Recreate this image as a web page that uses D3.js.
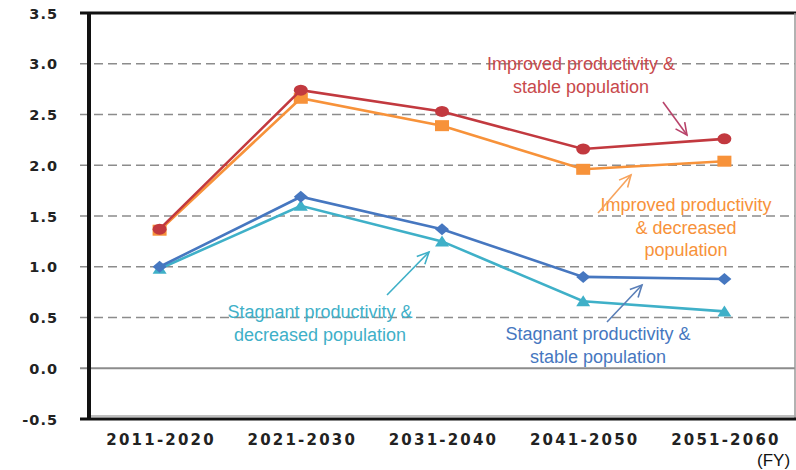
<!DOCTYPE html>
<html><head><meta charset="utf-8">
<script src="https://cdn.jsdelivr.net/npm/d3@7/dist/d3.min.js"></script>
<style>body{margin:0;background:#fff}svg{display:block}</style>
</head><body><svg id="c" width="796" height="470"></svg>
<script>
const categories = ["2011-2020","2021-2030","2031-2040","2041-2050","2051-2060"];
const yTicks = [-0.5,0,0.5,1,1.5,2,2.5,3,3.5];
const yTickLabels = ["-0.5","0.0","0.5","1.0","1.5","2.0","2.5","3.0","3.5"];
const improvedStable = [1.37,2.74,2.53,2.16,2.26];
const improvedDecreased = [1.36,2.66,2.39,1.96,2.04];
const stagnantStable = [1.00,1.69,1.37,0.90,0.88];
const stagnantDecreased = [0.98,1.60,1.25,0.66,0.56];
const seriesNames = ["Improved productivity & stable population","Improved productivity & decreased population","Stagnant productivity & stable population","Stagnant productivity & decreased population"];

const svg = d3.select("#c");
const L=89, R=795, T=13, B=419;
const x = d3.scalePoint().domain(categories).range([L,R]).padding(0.5);
const y = d3.scaleLinear().domain([-0.5,3.5]).range([B,T]);

// gridlines
svg.append("g").selectAll("line").data(yTicks.filter(v=>v!==0 && v!==3.5 && v!==-0.5)).join("line")
  .attr("x1",80).attr("x2",R).attr("y1",d=>y(d)).attr("y2",d=>y(d))
  .attr("stroke","#8c8c8c").attr("stroke-width",1.5).attr("stroke-dasharray","9,5");
// zero line
svg.append("line").attr("x1",80).attr("x2",R).attr("y1",y(0)).attr("y2",y(0))
  .attr("stroke","#8c8c8c").attr("stroke-width",2);
// frame
svg.append("line").attr("x1",80).attr("x2",796).attr("y1",T).attr("y2",T).attr("stroke","#111").attr("stroke-width",3);
svg.append("line").attr("x1",R).attr("x2",R).attr("y1",T).attr("y2",B).attr("stroke","#999").attr("stroke-width",1.5);
svg.append("line").attr("x1",L).attr("x2",796).attr("y1",B-3).attr("y2",B-3).attr("stroke","#aaa").attr("stroke-width",1.5);
svg.append("line").attr("x1",80).attr("x2",796).attr("y1",B).attr("y2",B).attr("stroke","#111").attr("stroke-width",3);
svg.append("line").attr("x1",L).attr("x2",L).attr("y1",T-1).attr("y2",B+1).attr("stroke","#111").attr("stroke-width",4);

// y axis labels
const yAxis = d3.axisLeft(y).tickValues(yTicks).tickFormat((d,i)=>yTickLabels[i]).tickSize(0).tickPadding(0);
const ya = svg.append("g").attr("transform",`translate(${58},0)`).call(yAxis);
ya.select(".domain").remove();
ya.selectAll("text").attr("font-family","DejaVu Sans").attr("font-size",14.5).attr("font-weight","bold")
  .attr("fill","#222").attr("letter-spacing","1px").attr("dy","0.35em");

// x axis labels
const xAxis = d3.axisBottom(x).tickSize(0).tickPadding(0);
const xa = svg.append("g").attr("transform",`translate(1,${434})`).call(xAxis);
xa.select(".domain").remove();
xa.selectAll("text").attr("font-family","DejaVu Sans").attr("font-size",15).attr("font-weight","bold")
  .attr("fill","#222").attr("letter-spacing","2.2px").attr("dy","0.71em");
svg.append("text").attr("x",757).attr("y",466).text("(FY)").attr("font-family","Liberation Sans, Arial")
  .attr("font-size",17).attr("fill","#111");

const line = d3.line().x((d,i)=>x(categories[i])).y(d=>y(d));
const series = [
  {v:stagnantDecreased,c:"#3fb0c8",m:"tri"},
  {v:stagnantStable,c:"#4677c0",m:"dia"},
  {v:improvedDecreased,c:"#f7923a",m:"sq"},
  {v:improvedStable,c:"#c2393f",m:"circ"}
];
series.forEach(s=>{
  svg.append("path").datum(s.v).attr("d",line).attr("fill","none").attr("stroke",s.c).attr("stroke-width",2.6);
  const g = svg.append("g");
  s.v.forEach((v,i)=>{
    const cx=x(categories[i]), cy=y(v);
    if(s.m==="circ") g.append("ellipse").attr("cx",cx).attr("cy",cy).attr("rx",7).attr("ry",5.5).attr("fill",s.c);
    if(s.m==="sq") g.append("rect").attr("x",cx-7).attr("y",cy-5.5).attr("width",14).attr("height",11).attr("fill",s.c);
    if(s.m==="dia") g.append("path").attr("d",`M${cx},${cy-6}L${cx+7},${cy}L${cx},${cy+6}L${cx-7},${cy}Z`).attr("fill",s.c);
    if(s.m==="tri") g.append("path").attr("d",`M${cx},${cy-6}L${cx+7},${cy+5}L${cx-7},${cy+5}Z`).attr("fill",s.c);
  });
});

// annotations
function arrow(x1,y1,x2,y2,c){
  svg.append("line").attr("x1",x1).attr("y1",y1).attr("x2",x2).attr("y2",y2).attr("stroke",c).attr("stroke-width",1.6);
  const a=Math.atan2(y2-y1,x2-x1), len=13, w=0.45;
  const p1=[x2-len*Math.cos(a-w),y2-len*Math.sin(a-w)], p2=[x2-len*Math.cos(a+w),y2-len*Math.sin(a+w)];
  svg.append("path").attr("d",`M${p1}L${x2},${y2}L${p2}`).attr("fill","none").attr("stroke",c).attr("stroke-width",1.6);
}
function label(lines,cx,y0,c){
  const t=svg.append("text").attr("font-family","Liberation Sans, Arial").attr("font-size",18).attr("fill",c).attr("text-anchor","middle");
  lines.forEach((l,i)=>t.append("tspan").attr("x",cx).attr("y",y0+i*22.5).text(l));
}
label(["Improved productivity &","stable population"],581,70,"#c8494c");
arrow(663,102,687,135,"#b8436a");
label(["Improved productivity","& decreased","population"],686,211,"#f7923a");
arrow(598,213,631,175,"#f7a35c");
label(["Stagnant productivity &","decreased population"],320,318,"#3fb0c8");
arrow(387,295,429,252,"#3fb0c8");
label(["Stagnant productivity &","stable population"],598,340,"#4677c0");
arrow(607,322,642,285,"#5a7fb8");
</script></body></html>
